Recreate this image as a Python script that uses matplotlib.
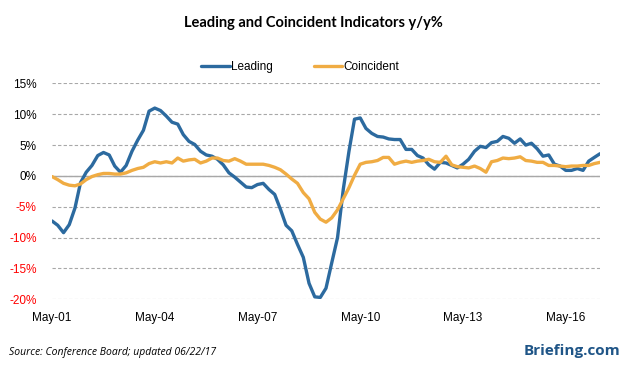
import pandas as pd
import matplotlib
matplotlib.use("Agg")
import matplotlib.pyplot as plt
import matplotlib.dates as mdates
from matplotlib.ticker import FuncFormatter

# every second month, May 2001 .. May 2017 (y/y %)
dates = pd.date_range("2001-05-01", "2017-05-01", freq="2MS")

leading = [
    -7.3, -8.0, -9.2, -7.9, -5.2, -1.1, 0.6, 1.7, 3.3, 3.8,
    3.4, 1.6, 0.6, 1.7, 4.0, 5.8, 7.4, 10.5, 11.0, 10.6,
    9.7, 8.7, 8.4, 6.7, 5.6, 5.1, 4.0, 3.4, 3.2, 2.7,
    1.8, 0.5, -0.2, -1.0, -1.8, -1.9, -1.4, -1.2, -2.2, -3.0,
    -5.4, -8.0, -8.9, -11.1, -13.2, -17.4, -19.6, -19.7, -18.2, -14.1,
    -10.0, -2.2, 4.0, 9.2, 9.4, 7.7, 6.9, 6.4, 6.3, 6.0,
    5.9, 5.9, 4.3, 4.3, 3.3, 2.9, 1.8, 1.1, 2.2, 2.1,
    1.7, 1.3, 1.9, 2.7, 4.0, 4.8, 4.6, 5.4, 5.6, 6.4,
    6.1, 5.3, 6.0, 5.0, 5.3, 4.4, 3.2, 3.4, 1.9, 1.6,
    0.9, 0.9, 1.2, 0.9, 2.4, 3.0, 3.6,
]

coincident = [
    -0.1, -0.6, -1.2, -1.5, -1.6, -1.3, -0.6, -0.1, 0.2, 0.4,
    0.4, 0.3, 0.3, 0.5, 0.9, 1.2, 1.4, 2.0, 2.3, 2.1,
    2.3, 2.1, 2.9, 2.4, 2.6, 2.7, 2.1, 2.4, 2.9, 2.9,
    2.5, 2.4, 2.8, 2.4, 1.9, 1.9, 1.9, 1.9, 1.7, 1.4,
    1.0, 0.3, -0.5, -1.2, -2.7, -3.7, -5.9, -7.0, -7.5, -6.8,
    -5.5, -3.7, -1.9, 0.1, 1.9, 2.2, 2.3, 2.5, 3.0, 3.0,
    1.9, 2.2, 2.4, 2.2, 2.4, 2.5, 2.7, 2.3, 2.2, 3.2,
    1.8, 1.5, 1.4, 1.3, 1.6, 1.2, 0.6, 2.3, 2.5, 2.9,
    2.8, 2.9, 3.1, 2.5, 2.4, 2.2, 2.2, 1.7, 1.7, 1.6,
    1.5, 1.6, 1.6, 1.7, 1.7, 2.0, 2.2,
]

yticks = [15, 10, 5, 0, -5, -10, -15, -20]

blue = "#2C6A9F"
orange = "#F0AC43"

fig = plt.figure(figsize=(6.26, 3.67), dpi=100)
ax = fig.add_axes([52 / 626, 1 - 299.3 / 367, 548 / 626, (299.3 - 83.4) / 367])

ax.plot(dates, leading, color=blue, lw=2.4, label="Leading", solid_capstyle="round")
ax.plot(dates, coincident, color=orange, lw=2.4, label="Coincident", solid_capstyle="round")

ax.set_xlim(dates[0], dates[-1])
ax.set_ylim(-20, 15)
ax.set_yticks(yticks)
ax.yaxis.set_major_formatter(FuncFormatter(lambda v, p: f"{v:.0f}%"))

ax.grid(axis="y", color="#A8A8A8", lw=0.8, ls=(0, (3, 2)))
ax.axhline(0, color="#A8A8A8", lw=1.0, zorder=1)
for s in ax.spines.values():
    s.set_visible(False)

ax.set_xticks(pd.date_range("2001-05-01", "2016-05-01", freq="36MS"))
ax.xaxis.set_major_formatter(mdates.DateFormatter("%b-%y"))
ax.tick_params(axis="both", length=0)
ax.tick_params(axis="y", pad=11, labelsize=8.5)
ax.tick_params(axis="x", pad=9, labelsize=8.5)
for t in ax.get_xticklabels() + ax.get_yticklabels():
    t.set_fontfamily("Liberation Sans")
fig.canvas.draw()
for t in ax.get_yticklabels():
    if t.get_text().startswith("-") or t.get_text().startswith("\u2212"):
        t.set_color("red")

fig.text(0.5, 1 - 23 / 367, "Leading and Coincident Indicators y/y%",
         ha="center", va="center", fontsize=10.5, fontweight="bold", family="Lato")

ax.legend(loc="center", bbox_to_anchor=(0.453, 1 + (83.4 - 67) / (299.3 - 83.4)),
          ncol=2, frameon=False, prop={"family": "Liberation Sans", "size": 8.5},
          handlelength=2.4, handletextpad=0.1, columnspacing=3.5)

fig.text(9 / 626, 1 - 352 / 367, "Source: Conference Board; updated 06/22/17",
         ha="left", va="center", fontsize=7.5, style="italic", family="Open Sans")
fig.text(620 / 626, 1 - 351 / 367, "Briefing.com", ha="right", va="center",
         fontsize=11, fontweight="bold", color="#1F5587", family="Open Sans")

fig.savefig("out.png", dpi=100)
